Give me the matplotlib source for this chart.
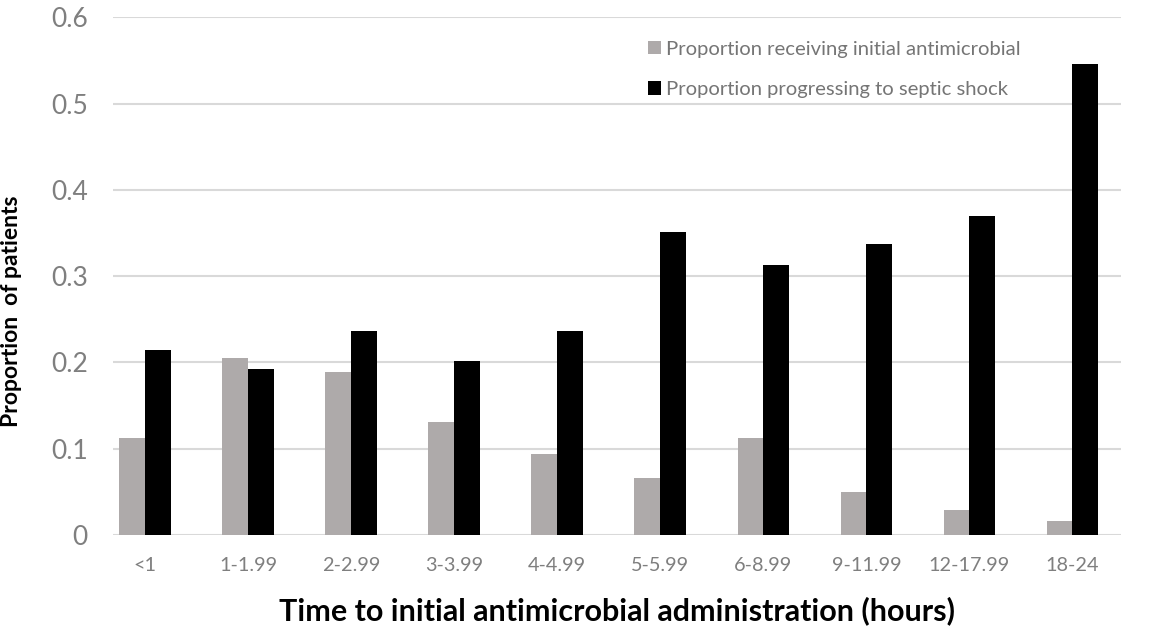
import numpy as np
import matplotlib.pyplot as plt

categories = ["<1", "1-1.99", "2-2.99", "3-3.99", "4-4.99", "5-5.99",
              "6-8.99", "9-11.99", "12-17.99", "18-24"]
receiving = [0.112, 0.205, 0.189, 0.131, 0.094, 0.066, 0.112, 0.050, 0.029, 0.016]
septic_shock = [0.214, 0.192, 0.236, 0.202, 0.236, 0.351, 0.313, 0.337, 0.370, 0.546]
y_ticks = [0, 0.1, 0.2, 0.3, 0.4, 0.5, 0.6]
y_tick_labels = ["0", "0.1", "0.2", "0.3", "0.4", "0.5", "0.6"]

plt.rcParams['font.family'] = ['Lato', 'DejaVu Sans']

fig = plt.figure(figsize=(11.68, 6.37), dpi=100)
ax = fig.add_axes([0.0967, 0.160, 0.863, 0.813])

x = np.arange(len(categories))
w = 0.25
ax.bar(x - w / 2, receiving, w, color="#aeaaaa", label="Proportion receiving initial antimicrobial", zorder=3)
ax.bar(x + w / 2, septic_shock, w, color="#000000", label="Proportion progressing to septic shock", zorder=3)

# plot area in the original is a little narrower than the category band
ax.set_xlim(-0.31, len(categories) - 0.53)
ax.set_ylim(0, 0.6)
ax.set_yticks(y_ticks)
ax.set_yticklabels(y_tick_labels)
ax.set_xticks(x)
ax.set_xticklabels(categories)

for s in ax.spines.values():
    s.set_visible(False)
ax.yaxis.grid(True, color="#d9d9d9", linewidth=1.5, zorder=0)
ax.set_axisbelow(True)
ax.tick_params(axis="both", length=0)
ax.tick_params(axis="y", labelsize=19, labelcolor="#7f7f7f", pad=18)
ax.tick_params(axis="x", labelsize=14.3, labelcolor="#7f7f7f", pad=16)

ax.set_ylabel("Proportion  of patients", fontsize=16.5, fontweight="bold")
ax.yaxis.set_label_coords(-0.090, 0.432)
ax.set_xlabel("Time to initial antimicrobial administration (hours)", fontsize=22,
              fontweight="bold", labelpad=16)

leg = ax.legend(loc="upper right", bbox_to_anchor=(0.919, 0.99), frameon=False,
                fontsize=14.6, handlelength=0.65, handleheight=0.65, handletextpad=0.25,
                labelspacing=1.15)
for t in leg.get_texts():
    t.set_color("#757575")

plt.savefig("out.png", dpi=100)
